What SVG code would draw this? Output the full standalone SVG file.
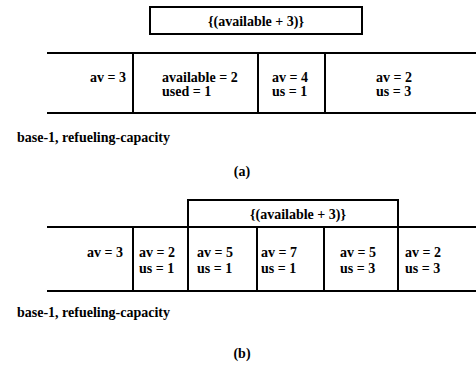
<svg xmlns="http://www.w3.org/2000/svg" width="476" height="366" viewBox="0 0 476 366">
<style>
text{font-family:"Liberation Serif","Times New Roman",serif;font-weight:bold;font-size:14px;fill:#000}
.ln{stroke:#000;stroke-width:2;fill:none}
.box{stroke:#000;stroke-width:2;fill:#fff}
.c{text-anchor:middle}
.e{text-anchor:end}
</style>
<rect width="476" height="366" fill="#fff"/>
<g id="connectors">
<line class="ln" x1="47" y1="53" x2="476" y2="53"/>
<line class="ln" x1="47" y1="113" x2="476" y2="113"/>
<line class="ln" x1="133" y1="53" x2="133" y2="113"/>
<line class="ln" x1="258" y1="53" x2="258" y2="113"/>
<line class="ln" x1="325" y1="53" x2="325" y2="113"/>
<line class="ln" x1="47" y1="227" x2="476" y2="227"/>
<line class="ln" x1="47" y1="291" x2="476" y2="291"/>
<line class="ln" x1="133" y1="227" x2="133" y2="291"/>
<line class="ln" x1="188" y1="227" x2="188" y2="291"/>
<line class="ln" x1="257" y1="227" x2="257" y2="291"/>
<line class="ln" x1="324" y1="227" x2="324" y2="291"/>
<line class="ln" x1="398" y1="227" x2="398" y2="291"/>
</g>
<g id="a-box"><rect class="box" x="150" y="7" width="212" height="27"/><text class="c" x="256" y="26">{(available + 3)}</text></g>
<g id="a-cell1"><text class="e" x="126" y="82">av = 3</text></g>
<g id="a-cell2"><text x="162" y="82">available = 2</text><text x="162" y="96">used = 1</text></g>
<g id="a-cell3"><text x="272" y="82">av = 4</text><text x="272" y="96">us = 1</text></g>
<g id="a-cell4"><text x="376" y="82">av = 2</text><text x="376" y="96">us = 3</text></g>
<g id="a-label"><text x="17" y="142">base-1, refueling-capacity</text></g>
<g id="a-caption"><text class="c" x="242" y="176">(a)</text></g>
<g id="b-box"><rect class="box" x="188" y="200" width="210" height="27"/><text class="c" x="298" y="219">{(available + 3)}</text></g>
<g id="b-cell1"><text class="e" x="123" y="257">av = 3</text></g>
<g id="b-cell2"><text x="139" y="257">av = 2</text><text x="139" y="273">us = 1</text></g>
<g id="b-cell3"><text x="197" y="257">av = 5</text><text x="197" y="273">us = 1</text></g>
<g id="b-cell4"><text x="261" y="257">av = 7</text><text x="261" y="273">us = 1</text></g>
<g id="b-cell5"><text x="340" y="257">av = 5</text><text x="340" y="273">us = 3</text></g>
<g id="b-cell6"><text x="405" y="257">av = 2</text><text x="405" y="273">us = 3</text></g>
<g id="b-label"><text x="17" y="317">base-1, refueling-capacity</text></g>
<g id="b-caption"><text class="c" x="242" y="358">(b)</text></g>
</svg>
